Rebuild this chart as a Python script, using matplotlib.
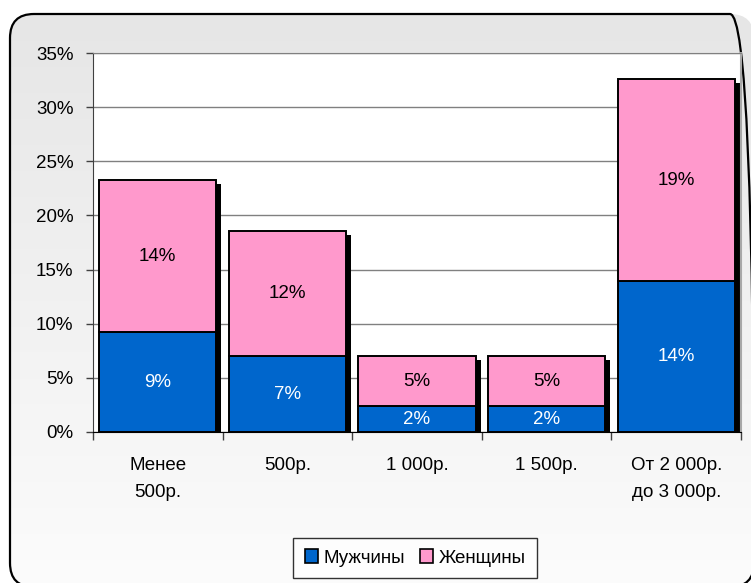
import matplotlib
matplotlib.use("Agg")
import matplotlib.pyplot as plt
import matplotlib.transforms as mtransforms
from matplotlib.patches import FancyBboxPatch, Patch
import numpy as np

categories = ["Менее\n500р.", "500р.", "1 000р.", "1 500р.", "От 2 000р.\nдо 3 000р."]
men = [9.2, 7.0, 2.4, 2.4, 13.9]
women = [14.1, 11.6, 4.6, 4.6, 18.7]
series_names = ["Мужчины", "Женщины"]
yticks = [0, 5, 10, 15, 20, 25, 30, 35]

plt.rcParams['font.family'] = ['Liberation Sans', 'DejaVu Sans']
FS = 13.5

W, H = 751, 583
fig = plt.figure(figsize=(W / 100, H / 100), dpi=100)
fig.patch.set_facecolor('white')

# background frame with gradient
bg_ax = fig.add_axes([0, 0, 1, 1])
bg_ax.set_xlim(0, W)
bg_ax.set_ylim(0, H)
bg_ax.axis('off')
fx, fy0, fw, fh = 10, H - 587, 744, 573   # y measured upward
style = "round,pad=0,rounding_size=24"
grad = np.linspace(1, 0, 256).reshape(-1, 1)
cmap = matplotlib.colors.LinearSegmentedColormap.from_list('g', ['#e6e6e6', '#fcfcfc'])
im = bg_ax.imshow(grad, extent=[fx, fx + fw, fy0, fy0 + fh], cmap=cmap, aspect='auto',
                  origin='lower', zorder=1)
clip = FancyBboxPatch((fx, fy0), fw, fh, boxstyle=style,
                      facecolor='none', edgecolor='none', transform=bg_ax.transData)
bg_ax.add_patch(clip)
im.set_clip_path(clip)
frame = FancyBboxPatch((fx, fy0), fw, fh, boxstyle=style,
                       facecolor='none', edgecolor='black', linewidth=1.6, zorder=3,
                       clip_on=False)
bg_ax.add_patch(frame)
bg_ax.set_xlim(0, W)
bg_ax.set_ylim(0, H)

ax = fig.add_axes([93 / W, 1 - 432 / H, (741 - 93) / W, (432 - 53) / H])
ax.set_facecolor('white')
x = np.arange(len(categories))
totals = [m + w for m, w in zip(men, women)]
width = 0.905

shadow_tr = ax.transData + mtransforms.ScaledTranslation(5 / 100, -4 / 100, fig.dpi_scale_trans)
ax.bar(x, totals, width=width, color='black', edgecolor='black', linewidth=0,
       transform=shadow_tr, zorder=2)
b1 = ax.bar(x, men, width=width, color='#0066CC', edgecolor='black', linewidth=1.4, zorder=3)
b2 = ax.bar(x, women, width=width, bottom=men, color='#FF99CC', edgecolor='black',
            linewidth=1.4, zorder=3)

for xi, m, w in zip(x, men, women):
    ax.text(xi, m / 2, f"{m:.0f}%", ha='center', va='center', color='white', fontsize=FS, zorder=4)
    ax.text(xi, m + w / 2, f"{w:.0f}%", ha='center', va='center', color='black', fontsize=FS, zorder=4)

ax.set_xlim(-0.5, len(categories) - 0.5)
ax.set_ylim(0, 35)
ax.set_yticks(yticks)
ax.set_yticklabels([f"{t}%" for t in yticks], fontsize=FS)
ax.yaxis.grid(True, color='#808080', linewidth=1)
ax.set_axisbelow(True)
ax.tick_params(axis='y', direction='out', length=5, width=1, color='#404040', pad=9)

ax.set_xticks(x)
ax.set_xticklabels(categories, fontsize=FS, linespacing=1.8)
ax.tick_params(axis='x', which='major', length=0, pad=18)
ax.set_xticks(np.arange(-0.5, len(categories)), minor=True)
ax.tick_params(axis='x', which='minor', direction='out', length=6, width=1, color='#404040')

ax.spines['left'].set_color('#404040')
ax.spines['bottom'].set_color('black')
ax.spines['top'].set_color('#808080')
ax.spines['right'].set_color('#a8a8a8')
ax.spines['right'].set_linewidth(1.5)

handles = [Patch(facecolor='#0066CC', edgecolor='black', linewidth=1.2),
           Patch(facecolor='#FF99CC', edgecolor='black', linewidth=1.2)]
leg = fig.legend(handles, series_names, loc='center', bbox_to_anchor=(415 / W, 1 - 558 / H),
                 ncol=2, fontsize=FS, frameon=True, fancybox=False, edgecolor='black',
                 handlelength=0.7, handleheight=0.7, handletextpad=0.3, columnspacing=0.8,
                 borderpad=0.6)
leg.get_frame().set_linewidth(1.0)
leg.get_frame().set_facecolor('white')

fig.savefig('out.png', dpi=100)
